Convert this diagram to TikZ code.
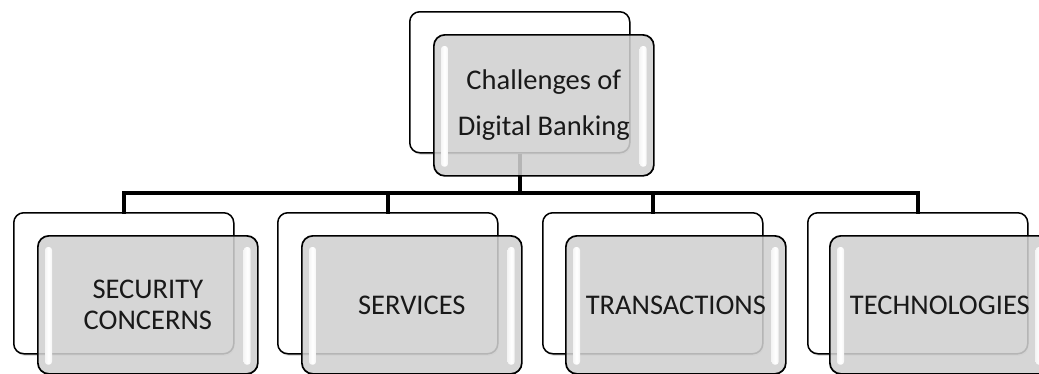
\documentclass[tikz,border=0pt]{standalone}
\usepackage{fontspec}
\setmainfont{Carlito}
\usetikzlibrary{shadows}
\definecolor{boxgrey}{RGB}{208,208,208}
\begin{document}
\begin{tikzpicture}[x=1pt,y=-1pt,
  backbox/.style={draw=black,line width=1.5pt,fill=white,rounded corners=10pt,
    minimum width=220pt,minimum height=141pt,inner sep=0pt,anchor=north west,
    drop shadow={shadow xshift=1pt,shadow yshift=-2pt,opacity=0.25}},
  frontbox/.style={draw=black,line width=1.7pt,fill=boxgrey,fill opacity=0.87,text opacity=1,
    rounded corners=11pt,minimum width=220pt,minimum height=138pt,inner sep=0pt,
    anchor=north west,align=center,text=black!90},
  conn/.style={draw=black,line width=3.5pt},
  hl/.style={left color=white!92!gray,right color=white!92!gray,middle color=white,
    rounded corners=3pt},
  topfont/.style={font=\fontsize{28.5pt}{46pt}\selectfont},
  botfont/.style={font=\fontsize{28.5pt}{31pt}\selectfont}]
\useasboundingbox (0,0) rectangle (1039,373);
% back boxes
\node[backbox] (tb) at (409,11) {};
\node[backbox] (b1) at (13,212) {};
\node[backbox] (b2) at (277,212) {};
\node[backbox] (b3) at (542,212) {};
\node[backbox] (b4) at (807,212) {};
% bus
\coordinate (bus) at (519,193);
\draw[conn] (tb.south) -- (tb.south |- bus);
\foreach \b in {b1,b2,b3,b4}{
  \draw[conn,line cap=rect] (tb.south |- bus) -| (\b.north);
}
% front boxes
\node[frontbox,topfont,minimum height=141pt] (tf) at (433,34) {Challenges of\\Digital Banking};
\node[frontbox,botfont] (f1) at (37,235) {SECURITY\\CONCERNS};
\node[frontbox,botfont] (f2) at (301,235) {SERVICES};
\node[frontbox,botfont] (f3) at (565,235) {TRANSACTIONS};
\node[frontbox,botfont] (f4) at (829,235) {TECHNOLOGIES};
% glossy highlights
\foreach \f in {tf,f1,f2,f3,f4}{
  \shade[hl] ([xshift=8pt,yshift=-12pt]\f.north west) rectangle ([xshift=15pt,yshift=10pt]\f.south west);
  \shade[hl] ([xshift=-15pt,yshift=-12pt]\f.north east) rectangle ([xshift=-8pt,yshift=10pt]\f.south east);
}
\end{tikzpicture}
\end{document}
